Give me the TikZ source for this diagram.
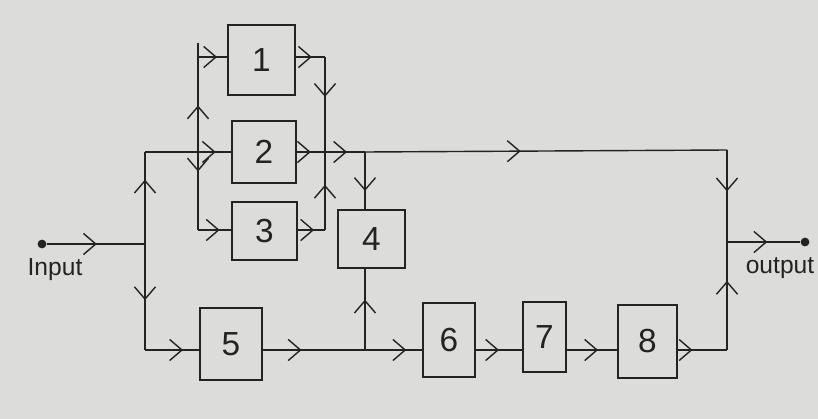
\documentclass[tikz,border=0pt]{standalone}
\usepackage{fontspec}
\setmainfont{Liberation Sans}
\usetikzlibrary{arrows.meta,decorations.markings}
\definecolor{paper}{RGB}{220,220,218}
\definecolor{ink}{RGB}{35,35,35}
\tikzset{
  box/.style={draw=ink, line width=0.8pt, inner sep=0pt, font=\fontsize{19}{19}\selectfont, text=ink},
  wire/.style={draw=ink, line width=0.8pt},
  arr/.style={wire, postaction={decorate, decoration={markings,
     mark=at position #1 with {\arrow[ink, line width=0.8pt]{Straight Barb[length=7pt,width=12pt]}}}}},
  lbl/.style={font=\fontsize{14}{14}\selectfont, text=ink},
  dot/.style={circle, fill=ink, inner sep=0pt, minimum size=5pt}
}
\begin{document}
\begin{tikzpicture}[x=0.02cm, y=-0.02cm]
\fill[paper] (0,0) rectangle (818,419);
\useasboundingbox (0,0) rectangle (818,419);
% boxes
\node[box, minimum width=1.34cm, minimum height=1.40cm] (b1) at (261.5,60) {1};
\node[box, minimum width=1.28cm, minimum height=1.24cm] (b2) at (264,152) {2};
\node[box, minimum width=1.30cm, minimum height=1.16cm] (b3) at (264.5,231) {3};
\node[box, minimum width=1.34cm, minimum height=1.16cm] (b4) at (371.5,239) {4};
\node[box, minimum width=1.24cm, minimum height=1.44cm] (b5) at (231,344) {5};
\node[box, minimum width=1.04cm, minimum height=1.48cm] (b6) at (449,340) {6};
\node[box, minimum width=0.86cm, minimum height=1.40cm] (b7) at (544.5,337) {7};
\node[box, minimum width=1.18cm, minimum height=1.46cm] (b8) at (647.5,341.5) {8};
% terminals and labels
\node[dot] (in) at (42,244) {};
\node[dot] (out) at (805,242) {};
\node[lbl] (inl) at (55,270) {Input};
\node[lbl] (outl) at (780,268) {output};
% junctions
\coordinate (J0) at (145,244);
\coordinate (Jt) at (145,152);
\coordinate (Jb) at (145,350);
\coordinate (LB) at (198,152);
\coordinate (LBt) at (198,57);
\coordinate (LBtop) at (198,43);
\coordinate (LBb) at (198,230);
\coordinate (RB) at (325,152);
\coordinate (RBt) at (325,57);
\coordinate (RBb) at (325,230);
\coordinate (J4) at (365,152);
\coordinate (TR) at (727,150);
\coordinate (OJ) at (727,242);
\coordinate (BR) at (727,350);
\coordinate (J5) at (365,350);
% connectors
\draw[arr=0.51] (in) -- (J0);
\draw[arr=0.70] (J0) -- (Jt);
\draw[arr=0.53] (J0) -- (Jb);
\draw[arr=0.82] (Jt) -- (Jt -| b2.west);
\draw[arr=0.49] (LB) -- (LBt);
\draw[wire] (LBt) -- (LBtop);
\draw[arr=0.25] (LB) -- (LBb);
\draw[arr=0.65] (LBt) -- (LBt -| b1.west);
\draw[arr=0.65] (LBb) -- (LBb -| b3.west);
\draw[arr=0.55] (LBt -| b1.east) -- (RBt);
\draw[arr=0.42] (RBt) -- (RB);
\draw[arr=0.60] (LBb -| b3.east) -- (RBb);
\draw[arr=0.58] (RBb) -- (RB);
\draw[arr=0.50] (b2.east) -- (RB);
\draw[arr=0.55] (RB) -- (J4);
\draw[arr=0.43] (J4) -- (TR);
\draw[arr=0.68] (J4) -- (J4 |- b4.north);
\draw[arr=0.45] (TR) -- (OJ);
\draw[arr=0.55] (OJ) -- (out);
\draw[arr=0.64] (BR) -- (OJ);
\draw[arr=0.70] (Jb) -- (Jb -| b5.west);
\draw[arr=0.38] (J5 -| b5.east) -- (J5);
\draw[arr=0.62] (J5) -- (J5 |- b4.south);
\draw[arr=0.72] (J5) -- (J5 -| b6.west);
\draw[arr=0.50] (J5 -| b6.east) -- (J5 -| b7.west);
\draw[arr=0.62] (J5 -| b7.east) -- (J5 -| b8.west);
\draw[arr=0.30] (J5 -| b8.east) -- (BR);
\end{tikzpicture}
\end{document}
